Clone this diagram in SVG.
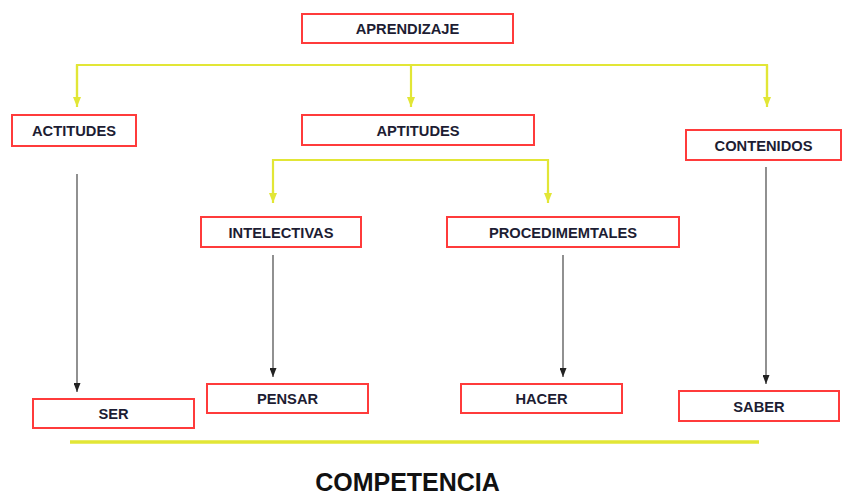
<svg xmlns="http://www.w3.org/2000/svg" width="845" height="495" viewBox="0 0 845 495">
<defs>
<marker id="ya" viewBox="0 0 8 10" refX="4" refY="10" markerWidth="8" markerHeight="10" markerUnits="userSpaceOnUse">
<path d="M0,0 L8,0 L4,10 Z" fill="#e2e636"/>
</marker>
<marker id="ka" viewBox="0 0 7 9" refX="3.5" refY="9" markerWidth="7" markerHeight="9" markerUnits="userSpaceOnUse">
<path d="M0,0 L7,0 L3.5,9 Z" fill="#222"/>
</marker>
<style>
.box rect{fill:#fff;stroke:#ff3b3b;stroke-width:2}
.box text{font-family:"Liberation Sans",Arial,sans-serif;font-weight:bold;font-size:14.7px;fill:#1d1d33;text-anchor:middle}
.y{fill:none;stroke:#e2e636;stroke-width:2.2}
.k{fill:none;stroke:#555;stroke-width:1.3}
</style>
</defs>
<rect width="845" height="495" fill="#fff"/>
<g id="connectors">
<path class="y" d="M77,98 V65 H767 V98"/>
<path class="y" d="M411,65 V107" marker-end="url(#ya)"/>
<path class="y" d="M77,65 V107" marker-end="url(#ya)"/>
<path class="y" d="M767,65 V107" marker-end="url(#ya)"/>
<path class="y" d="M273,195 V160 H548 V195"/>
<path class="y" d="M273,190 V203" marker-end="url(#ya)"/>
<path class="y" d="M548,190 V203" marker-end="url(#ya)"/>
<path class="k" d="M77,174 V392" marker-end="url(#ka)"/>
<path class="k" d="M273,255 V377" marker-end="url(#ka)"/>
<path class="k" d="M563,255 V377" marker-end="url(#ka)"/>
<path class="k" d="M766,167 V384" marker-end="url(#ka)"/>
<path d="M70,442 H759" stroke="#e2e636" stroke-width="3.5"/>
</g>
<g id="aprendizaje" class="box"><rect x="302" y="14" width="211" height="29"/><text x="407.5" y="34">APRENDIZAJE</text></g>
<g id="actitudes" class="box"><rect x="12" y="115" width="124" height="31"/><text x="74" y="136">ACTITUDES</text></g>
<g id="aptitudes" class="box"><rect x="302" y="115" width="232" height="30"/><text x="418" y="135.5">APTITUDES</text></g>
<g id="contenidos" class="box"><rect x="686" y="130" width="155" height="30"/><text x="763.5" y="150.5">CONTENIDOS</text></g>
<g id="intelectivas" class="box"><rect x="201" y="217" width="160" height="30"/><text x="281" y="237.5">INTELECTIVAS</text></g>
<g id="procedimemtales" class="box"><rect x="447" y="217" width="232" height="30"/><text x="563" y="237.5">PROCEDIMEMTALES</text></g>
<g id="ser" class="box"><rect x="33" y="399" width="161" height="29"/><text x="113.5" y="419">SER</text></g>
<g id="pensar" class="box"><rect x="207" y="384" width="161" height="29"/><text x="287.5" y="404">PENSAR</text></g>
<g id="hacer" class="box"><rect x="461" y="384" width="161" height="29"/><text x="541.5" y="404">HACER</text></g>
<g id="saber" class="box"><rect x="679" y="391" width="160" height="30"/><text x="759" y="411.5">SABER</text></g>
<g id="competencia"><text x="407.5" y="491" font-family="'Liberation Sans',Arial,sans-serif" font-weight="bold" font-size="25" fill="#111" text-anchor="middle">COMPETENCIA</text></g>
</svg>
